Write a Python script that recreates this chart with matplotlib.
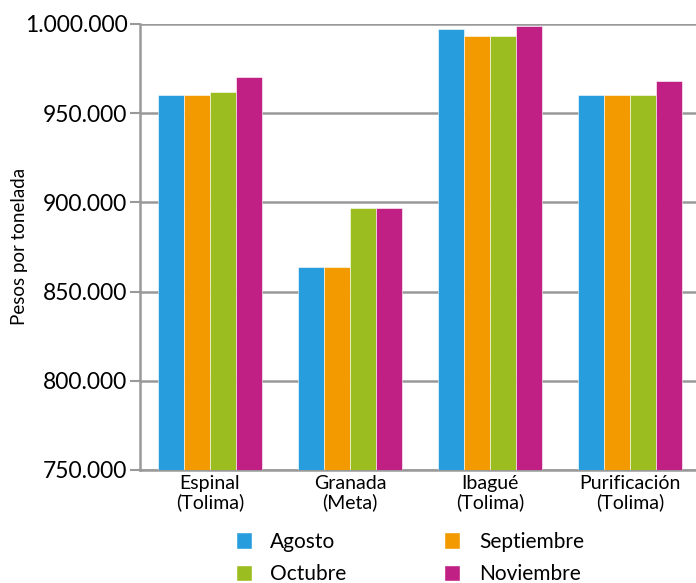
import matplotlib.pyplot as plt
from matplotlib.ticker import FuncFormatter
from matplotlib.patches import Patch
import numpy as np

# Data
cities = ['Espinal\n(Tolima)', 'Granada\n(Meta)', 'Ibagué\n(Tolima)', 'Purificación\n(Tolima)']
months = ['Agosto', 'Septiembre', 'Octubre', 'Noviembre']
agosto = [960000, 864000, 997000, 960000]
septiembre = [960000, 864000, 993000, 960000]
octubre = [962000, 897000, 993000, 960000]
noviembre = [970000, 897000, 999000, 968000]
colors = ['#279DDE', '#F29A00', '#9BBD20', '#C02083']

plt.rcParams['font.family'] = ['Lato', 'DejaVu Sans']

fig = plt.figure(figsize=(6.96, 5.83), dpi=100)
ax = fig.add_axes([0.201, 0.194, 0.799, 0.765])

x = np.arange(len(cities))
width = 0.186
series = [agosto, septiembre, octubre, noviembre]
for i, (vals, col) in enumerate(zip(series, colors)):
    ax.bar(x + (i - 1.5) * width, vals, width, color=col,
           edgecolor='white', linewidth=0.4, zorder=3)

ax.set_ylim(750000, 1000000)
ax.set_xlim(-0.5, 3.47)
ax.set_yticks(np.arange(750000, 1000001, 50000))
ax.yaxis.set_major_formatter(FuncFormatter(lambda v, p: f'{v:,.0f}'.replace(',', '.')))
ax.set_xticks(x)
ax.set_xticklabels(cities, fontsize=14, linespacing=1.05)

ax.grid(axis='y', color='#999999', linewidth=1.8, zorder=0)
ax.tick_params(axis='y', length=7, width=1.5, color='#999999', labelsize=16.5, pad=2)
ax.tick_params(axis='x', length=0, pad=4)
for s in ['top', 'right']:
    ax.spines[s].set_visible(False)
for s in ['left', 'bottom']:
    ax.spines[s].set_color('#999999')
    ax.spines[s].set_linewidth(1.8)

ax.set_ylabel('Pesos por tonelada', fontsize=13.5)
ax.yaxis.set_label_coords(-0.202, 0.5)

# legend laid out in two rows: Agosto / Septiembre, Octubre / Noviembre
handles = [Patch(facecolor=c, edgecolor='white') for c in colors]
order = [0, 2, 1, 3]
fig.legend([handles[i] for i in order], [months[i] for i in order],
           ncol=2, loc='lower left', bbox_to_anchor=(0.312, -0.034),
           frameon=False, fontsize=15, handlelength=0.75, handleheight=0.85,
           handletextpad=0.9, columnspacing=4.7, labelspacing=0.6)

fig.savefig('out.png', dpi=100)
